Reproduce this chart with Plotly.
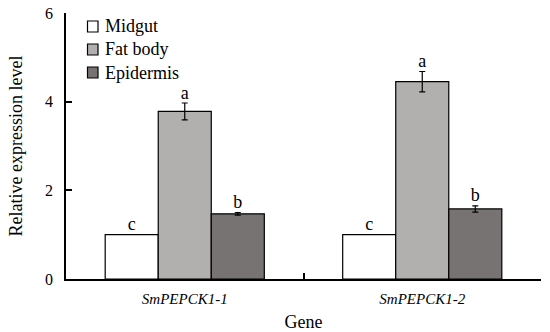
import plotly.graph_objects as go

genes = ["SmPEPCK1-1", "SmPEPCK1-2"]
tissues = ["Midgut", "Fat body", "Epidermis"]
values = {
    "Midgut": [1.0, 1.0],
    "Fat body": [3.78, 4.45],
    "Epidermis": [1.47, 1.58],
}
errors = {
    "Midgut": [0.0, 0.0],
    "Fat body": [0.19, 0.23],
    "Epidermis": [0.03, 0.07],
}
letters = {
    "Midgut": ["c", "c"],
    "Fat body": ["a", "a"],
    "Epidermis": ["b", "b"],
}
colors = {"Midgut": "#ffffff", "Fat body": "#b2afaf", "Epidermis": "#787373"}

FONT = "Times New Roman"
W, H = 550, 332
ML, MR, MT, MB = 66, 9, 13, 53
PW, PH = W - ML - MR, H - MT - MB

fig = go.Figure()
for t in tissues:
    fig.add_trace(go.Bar(
        x=genes, y=values[t], name=t, offsetgroup=t, showlegend=False,
        marker=dict(color=colors[t], line=dict(color="black", width=1.2)),
        error_y=dict(type="data", array=errors[t], visible=any(e > 0 for e in errors[t]),
                     color="black", thickness=1.2, width=3),
    ))
for t in tissues:
    fig.add_trace(go.Scatter(
        x=genes, y=[v + e for v, e in zip(values[t], errors[t])],
        mode="text", text=letters[t], textposition="top center",
        textfont=dict(family=FONT, size=18, color="black"),
        offsetgroup=t, showlegend=False, hoverinfo="skip", cliponaxis=False,
    ))

# custom legend (boxes + labels) in paper coordinates
def px_x(p):
    return (p - ML) / PW

def px_y(p):
    return (H - MB - p) / PH

row_centers = [26.5, 49.5, 72.5]
for t, cy in zip(tissues, row_centers):
    fig.add_shape(type="rect", xref="paper", yref="paper",
                  x0=px_x(87.5), x1=px_x(98), y0=px_y(cy + 5.5), y1=px_y(cy - 5.5),
                  fillcolor=colors[t], line=dict(color="black", width=1.2))
    fig.add_annotation(xref="paper", yref="paper", x=px_x(103), y=px_y(cy),
                       xanchor="left", yanchor="middle", text=t, showarrow=False,
                       font=dict(family=FONT, size=18, color="black"))

fig.update_layout(
    width=W, height=H,
    margin=dict(l=ML, r=MR, t=MT, b=MB, autoexpand=False),
    paper_bgcolor="white", plot_bgcolor="white",
    barmode="group", bargap=0.33, bargroupgap=0,
    scattermode="group", scattergap=0.33,
    font=dict(family=FONT, size=15, color="black"),
    showlegend=False,
)
fig.update_xaxes(
    type="category", showline=True, linecolor="black", linewidth=1.5,
    ticks="inside", ticklen=6, tickwidth=1.5, tickcolor="black",
    tickson="boundaries", showgrid=False, automargin=False, ticklabelstandoff=5,
    tickfont=dict(family=FONT, size=15, style="italic"),
    title=dict(text="Gene", font=dict(family=FONT, size=18), standoff=12),
)
fig.update_yaxes(
    range=[0, 6], tickvals=[0, 2, 4, 6], showline=True, linecolor="black", linewidth=1.5,
    ticks="inside", ticklen=6, tickwidth=1.5, tickcolor="black", showgrid=False,
    zeroline=False, ticklabelstandoff=8, automargin=False,
    tickfont=dict(family=FONT, size=16),
    title=dict(text="Relative expression level", font=dict(family=FONT, size=18), standoff=18),
)
fig.write_html("out.html", config={"displayModeBar": False},
               post_script="document.body.style.margin='0';")
